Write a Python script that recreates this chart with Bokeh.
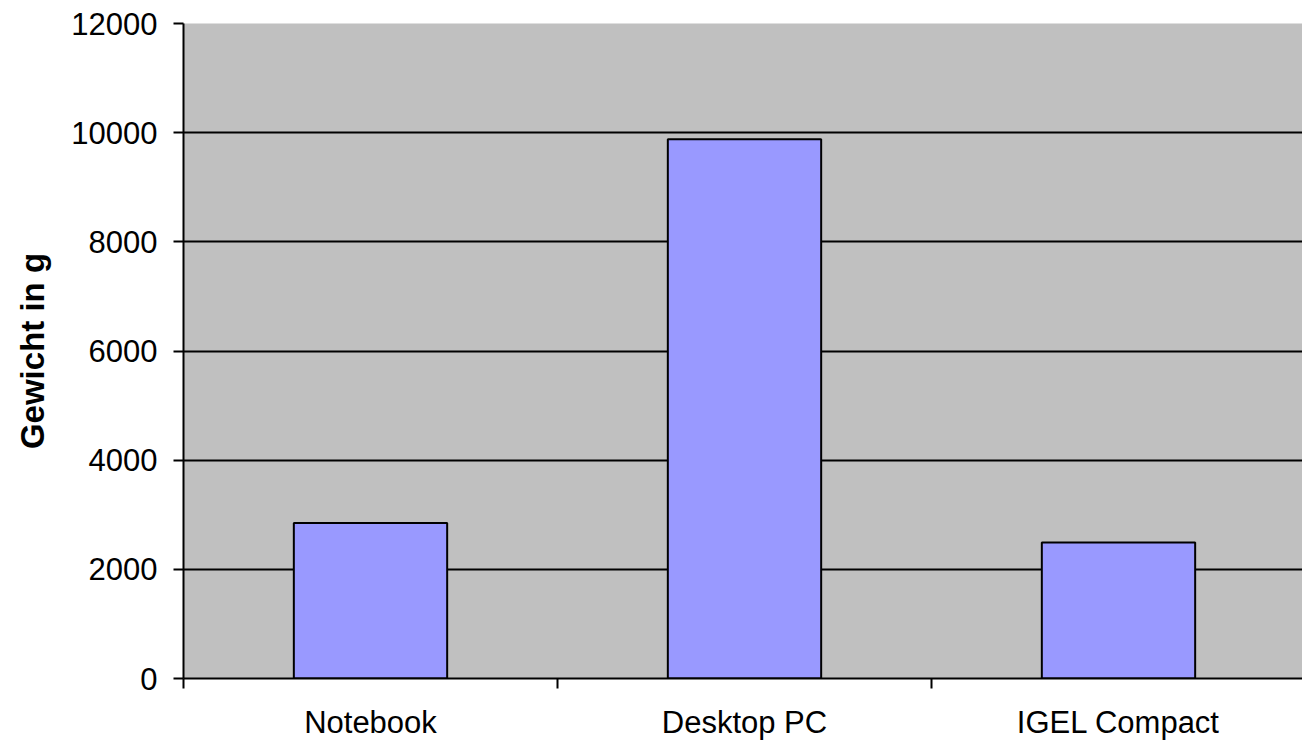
from bokeh.plotting import figure
from bokeh.models import FixedTicker, Range1d, ColumnDataSource
from bokeh.embed import file_html
from bokeh.resources import INLINE

categories = ["Notebook", "Desktop PC", "IGEL Compact"]
weights = [2850, 9880, 2490]
y_ticks = [0, 2000, 4000, 6000, 8000, 10000, 12000]
grid_lines = [2000, 4000, 6000, 8000, 10000]

centers = [i + 0.5 for i in range(len(categories))]
bounds = [float(i) for i in range(len(categories) + 1)]

src = ColumnDataSource(dict(x=centers, top=weights, cat=categories))

p = figure(width=1302, height=742, output_backend="svg", toolbar_location=None,
           x_range=Range1d(0, 2.992), y_range=Range1d(0, 12000),
           min_border_left=183, min_border_top=23, min_border_bottom=63, min_border_right=0)
p.background_fill_color = "#C0C0C0"
p.border_fill_color = "white"
p.outline_line_color = None

p.vbar(x="x", top="top", bottom=0, width=0.41, source=src,
       fill_color="#9999FF", line_color="black", line_width=2)

font = "Liberation Sans"

# x axis
xa = p.xaxis[0]
xa.ticker = FixedTicker(ticks=centers, minor_ticks=bounds)
xa.major_label_overrides = {c: n for c, n in zip(centers, categories)}
xa.major_tick_out = 0
xa.major_tick_in = 0
xa.minor_tick_out = 10
xa.minor_tick_in = 0
xa.minor_tick_line_color = "black"
xa.minor_tick_line_width = 2
xa.axis_line_color = "black"
xa.axis_line_width = 2
xa.major_label_text_font = font
xa.major_label_text_font_size = "31px"
xa.major_label_text_color = "black"
xa.major_label_standoff = 16

# y axis
ya = p.yaxis[0]
ya.ticker = FixedTicker(ticks=y_ticks)
ya.major_tick_out = 10
ya.major_tick_in = 0
ya.major_tick_line_color = "black"
ya.major_tick_line_width = 2
ya.minor_tick_line_color = None
ya.axis_line_color = "black"
ya.axis_line_width = 2
ya.major_label_text_font = font
ya.major_label_text_font_size = "31px"
ya.major_label_text_color = "black"
ya.major_label_standoff = 16
ya.axis_label = "Gewicht in g"
ya.axis_label_text_font = font
ya.axis_label_text_font_size = "33px"
ya.axis_label_text_font_style = "bold"
ya.axis_label_text_color = "black"
ya.axis_label_standoff = 17

p.xgrid.grid_line_color = None
p.ygrid.ticker = FixedTicker(ticks=grid_lines)
p.ygrid.grid_line_color = "black"
p.ygrid.grid_line_width = 2

open("out.html", "w").write(file_html(p, INLINE))
